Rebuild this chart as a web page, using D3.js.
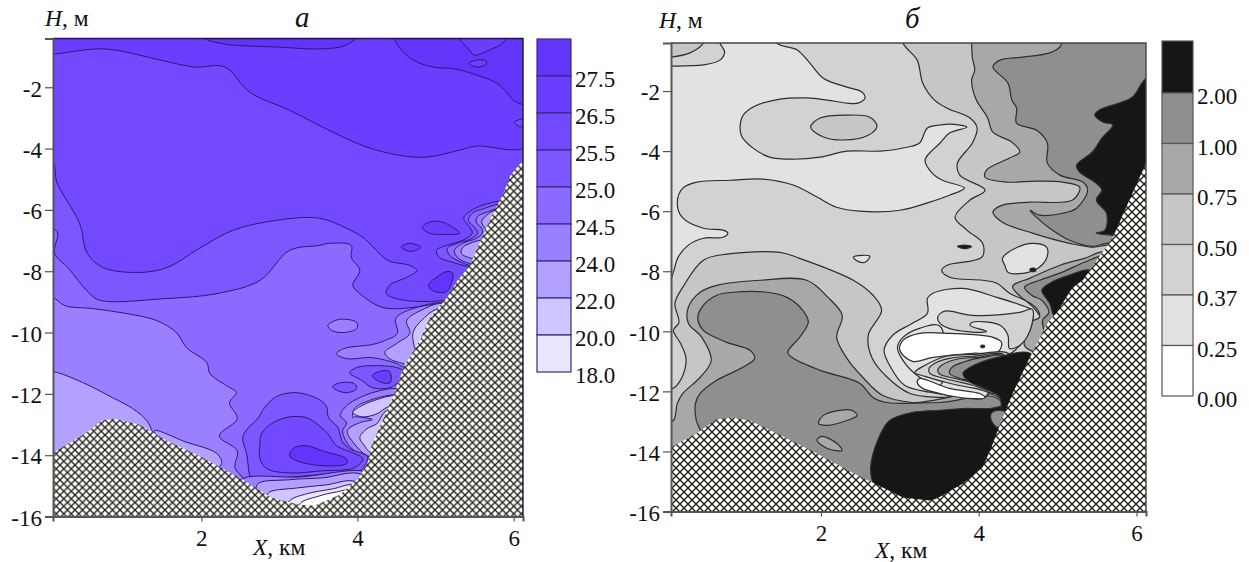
<!DOCTYPE html>
<html>
<head>
<meta charset="utf-8">
<script src="https://cdn.jsdelivr.net/npm/d3@7"></script>
<style>
	html, body { margin: 0; padding: 0; background: #fff; }
	svg { display: block; }
	text { font-family: "Liberation Serif", serif; fill: #111; }
</style>
</head>
<body>
<svg width="1249" height="562"></svg>
<script>
// every contour is [X km, H m]
const ticksH = [-2, -4, -6, -8, -10, -12, -14, -16];
const ticksX = [2, 4, 6];

// ---- panel a: temperature
const aLegend = ["27.5", "26.5", "25.5", "25.0", "24.5", "24.0", "22.0", "20.0", "18.0"];
const aColors = ["#6335fa", "#6a3dff", "#7249ff", "#7c57ff", "#8b6bff", "#9a80ff", "#b4a1ff", "#d0c6ff", "#ebe7ff", "#ffffff"];

const aTop = [[-0.07,-0.92],[0.10,-0.92],[0.76,-0.75],[1.47,-1.11],[1.91,-1.34],[2.30,-1.34],[2.62,-2.16],[3.13,-2.75],[3.68,-3.46],[4.12,-3.95],[4.54,-4.22],[4.88,-4.28],[5.31,-4.05],[5.52,-3.92],[6.20,-3.89],[6.20,0],[-0.07,0]];
const aTopLens = [[2.02,-0.13],[2.04,-0.39],[2.30,-0.59],[3.00,-0.69],[3.51,-0.75],[3.83,-0.65],[3.98,-0.39],[4.00,-0.13]];
const aTopRight = [[4.45,-0.13],[4.47,-0.39],[4.54,-0.72],[4.71,-1.11],[4.96,-1.34],[5.27,-1.41],[5.52,-1.60],[5.78,-1.86],[5.92,-2.19],[5.99,-2.42],[6.10,-2.55],[6.23,-2.61],[6.23,-0.13]];
const aTopNotch = [[5.28,-0.13],[5.31,-0.42],[5.43,-0.78],[5.50,-0.95],[5.69,-0.78],[5.86,-0.56],[5.95,-0.13]];
const aTopSpot = [[5.43,-1.21],[5.54,-1.11],[5.65,-1.14],[5.64,-1.27],[5.52,-1.34]];
const aEdgeSpot = [[6.01,-3.14],[6.10,-3.04],[6.23,-3.04],[6.23,-3.27],[6.07,-3.27]];

const aBand3 = [[-0.07,-4.48],[0.10,-4.48],[0.15,-5.10],[0.44,-6.44],[0.54,-7.42],[0.74,-7.88],[1.21,-8.04],[1.56,-7.88],[1.98,-7.25],[2.40,-6.67],[2.96,-6.34],[3.51,-6.27],[3.86,-6.60],[4.07,-6.90],[4.18,-7.16],[4.39,-7.65],[4.67,-7.81],[4.76,-7.97],[4.63,-8.20],[4.41,-8.46],[4.37,-8.73],[4.54,-8.92],[4.92,-8.99],[5.12,-8.95],[6.20,-8.95],[6.20,-16.47],[-0.07,-16.47]];
const aBand4 = [[-0.07,-6.60],[0.10,-6.60],[0.16,-6.76],[0.12,-7.42],[0.29,-7.88],[0.42,-8.30],[0.57,-8.73],[0.70,-8.95],[1.56,-8.89],[2.20,-8.73],[2.75,-8.30],[3.13,-7.32],[3.51,-7.16],[3.64,-7.09],[3.92,-7.16],[3.92,-7.55],[4.03,-7.97],[3.94,-8.46],[4.03,-8.73],[4.32,-9.18],[4.71,-9.18],[5.05,-9.02],[6.20,-9.02],[6.20,-16.47],[-0.07,-16.47]];
const aBand5 = [[-0.07,-8.86],[0.10,-8.86],[0.25,-9.12],[0.61,-9.22],[1.04,-9.38],[1.43,-9.61],[1.68,-10.0],[1.81,-10.49],[2.07,-10.98],[2.11,-11.34],[2.32,-11.73],[2.45,-11.96],[2.36,-12.29],[2.46,-12.81],[2.23,-13.37],[2.46,-13.86],[2.43,-14.41],[2.55,-14.84],[2.55,-16.47],[-0.07,-16.47]];
const aBand6 = [[-0.07,-11.27],[0.10,-11.27],[0.48,-11.63],[0.86,-12.12],[1.12,-12.48],[1.30,-12.87],[1.38,-13.27],[1.44,-13.69],[0.70,-16.47],[-0.07,-16.47]];
const aSliver = [[1.40,-13.20],[1.79,-13.56],[2.20,-13.95],[2.26,-14.28],[2.11,-14.51],[1.59,-13.85]];

const aBlob1 = [[2.53,-13.43],[2.59,-13.14],[2.72,-12.81],[2.81,-12.45],[2.96,-12.09],[3.22,-11.96],[3.49,-12.16],[3.60,-12.39],[3.63,-12.78],[3.75,-13.10],[3.80,-13.53],[3.90,-13.79],[4.13,-14.05],[4.09,-14.35],[4.03,-14.51],[3.77,-14.58],[3.35,-14.67],[2.91,-14.77],[2.66,-14.84],[2.58,-13.95]];
const aBlob2 = [[2.75,-13.63],[2.77,-13.30],[2.90,-12.97],[3.13,-12.75],[3.35,-12.78],[3.51,-13.04],[3.62,-13.30],[3.73,-13.69],[3.94,-13.92],[4.07,-14.12],[3.96,-14.41],[3.55,-14.51],[3.13,-14.58],[2.84,-14.44],[2.75,-14.12]];
const aBlob3 = [[3.13,-14.02],[3.19,-13.76],[3.35,-13.69],[3.55,-13.86],[3.86,-14.12],[3.86,-14.28],[3.68,-14.35],[3.43,-14.31],[3.22,-14.18]];

const aFloor5 = [[2.53,-14.77],[3.26,-14.71],[4.09,-14.54],[4.18,-14.84],[3.77,-15.82],[2.87,-15.82],[2.43,-15.16]];
const aFloor6 = [[2.71,-14.97],[3.13,-14.80],[3.55,-14.74],[4.03,-14.61],[4.22,-15.16],[3.77,-15.88],[2.87,-15.88]];
const aFloor7 = [[2.85,-15.26],[3.22,-15.07],[3.60,-14.97],[3.94,-14.84],[4.16,-15.16],[3.77,-15.88],[2.94,-15.88]];
const aFloor8 = [[3.13,-15.49],[3.35,-15.26],[3.68,-15.10],[3.96,-14.97],[4.09,-15.33],[3.77,-15.95],[3.07,-15.95]];
const aFloor9 = [[3.26,-15.59],[3.51,-15.33],[3.73,-15.20],[3.90,-15.16],[3.84,-15.88],[3.26,-15.95]];

const aIsle1 = [[3.90,-11.31],[3.99,-11.14],[4.24,-11.08],[4.50,-11.14],[4.58,-11.24],[4.54,-11.57],[4.41,-11.80],[4.19,-11.80],[4.06,-11.57]];
const aIsle2 = [[4.19,-11.41],[4.28,-11.27],[4.41,-11.27],[4.42,-11.63],[4.31,-11.63]];
const aIsle3 = [[3.68,-11.76],[3.80,-11.63],[3.96,-11.67],[3.99,-11.83],[3.87,-11.96],[3.75,-11.90]];
const aIsle4 = [[3.62,-9.77],[3.77,-9.57],[3.99,-9.67],[3.99,-9.87],[3.81,-10.0],[3.67,-9.93]];
const aIsle5 = [[4.83,-6.57],[4.92,-6.40],[5.09,-6.40],[5.31,-6.76],[5.09,-6.80],[4.92,-6.76]];
const aIsle6 = [[4.56,-7.22],[4.67,-7.09],[4.81,-7.22],[4.69,-7.35]];
const aIsle7 = [[4.91,-8.46],[5.01,-8.20],[5.15,-8.01],[5.22,-8.07],[5.18,-8.53],[5.12,-8.69],[4.96,-8.63]];

const aNest1 = [[5.88,-5.69],[5.60,-5.85],[5.44,-6.05],[5.36,-6.27],[5.44,-6.57],[5.47,-6.76],[5.35,-6.99],[5.14,-7.16],[5.01,-7.32],[5.05,-7.55],[5.22,-7.71],[5.41,-7.84],[5.82,-7.97],[6.20,-5.69]];
const aNest2 = [[5.86,-5.78],[5.63,-5.95],[5.47,-6.11],[5.42,-6.34],[5.50,-6.57],[5.54,-6.76],[5.44,-6.96],[5.28,-7.09],[5.15,-7.25],[5.18,-7.48],[5.33,-7.71],[5.44,-7.81],[5.82,-7.91],[6.20,-5.78]];
const aNest3 = [[5.85,-5.91],[5.65,-6.08],[5.54,-6.21],[5.52,-6.40],[5.59,-6.60],[5.60,-6.76],[5.52,-6.93],[5.35,-7.09],[5.24,-7.32],[5.28,-7.55],[5.44,-7.75],[5.82,-7.84],[6.20,-5.91]];
const aNest4 = [[5.82,-5.95],[5.65,-6.18],[5.59,-6.40],[5.65,-6.67],[5.65,-6.90],[5.47,-7.06],[5.35,-7.22],[5.33,-7.42],[5.46,-7.58],[5.82,-7.71],[6.20,-5.95]];

const aMid5 = [[3.73,-10.69],[3.83,-10.52],[4.19,-10.39],[4.35,-10.26],[4.51,-10.03],[4.49,-9.54],[4.71,-9.22],[5.09,-9.05],[5.44,-9.05],[5.05,-11.24],[4.58,-11.11],[4.50,-11.01],[4.19,-10.82],[3.86,-10.85]];
const aMid6 = [[4.35,-10.65],[4.50,-10.36],[4.67,-10.03],[4.63,-9.61],[4.86,-9.22],[5.05,-9.05],[5.37,-9.12],[4.80,-11.08],[4.54,-10.98],[4.41,-10.85]];
const aMid7 = [[4.71,-10.03],[4.86,-9.51],[5.03,-9.22],[5.31,-9.22],[4.80,-10.75]];

const aLow5 = [[4.50,-11.83],[4.28,-11.90],[4.03,-12.12],[3.86,-12.39],[3.78,-12.71],[3.86,-12.94],[3.81,-13.20],[3.85,-13.53],[3.96,-13.86],[4.13,-14.05],[4.54,-14.18],[4.80,-12.06]];
const aLow6 = [[3.94,-12.78],[3.96,-12.48],[4.15,-12.22],[4.45,-12.03],[4.80,-12.06],[4.54,-14.18],[4.13,-14.02],[3.96,-13.63],[3.87,-13.20],[4.03,-12.94],[4.19,-12.84],[3.96,-12.75]];
const aLow7 = [[4.03,-13.43],[4.12,-13.14],[4.25,-12.97],[4.37,-12.55],[4.80,-12.55],[4.41,-14.18],[4.14,-13.86],[4.09,-13.69]];
const aLow8 = [[3.94,-12.61],[4.05,-12.39],[4.28,-12.16],[4.44,-12.06],[4.66,-12.06],[4.35,-12.48],[4.25,-12.65],[4.06,-12.75]];

const aBottom = [[0.10,-13.92],[0.53,-13.27],[0.72,-12.88],[0.89,-12.81],[1.21,-13.01],[1.56,-13.53],[2.02,-14.08],[2.49,-14.74],[2.90,-15.39],[3.26,-15.62],[3.45,-15.65],[3.77,-15.29],[4.01,-14.77],[4.13,-14.25],[4.18,-13.69],[4.32,-12.88],[4.45,-12.12],[4.60,-11.08],[4.80,-10.26],[4.92,-9.54],[5.12,-8.95],[5.28,-8.30],[5.44,-7.81],[5.58,-6.99],[5.72,-6.18],[5.86,-5.52],[5.96,-4.87],[6.12,-4.38]];

// ---- panel b: grey levels
const bLegend = ["2.00", "1.00", "0.75", "0.50", "0.37", "0.25", "0.00"];
const bColors = ["#161616", "#8f8f8f", "#a8a8a8", "#c6c6c6", "#d2d2d2", "#e2e2e2", "#ffffff"];

const bLight = [[-0.04,0],[1.44,0],[1.44,-0.40],[1.70,-0.63],[1.86,-1.07],[2.03,-1.57],[2.33,-1.87],[2.52,-2.03],[2.56,-2.23],[2.47,-2.40],[2.33,-2.40],[2.08,-2.30],[1.82,-2.23],[1.48,-2.27],[1.14,-2.53],[1.00,-2.87],[0.99,-3.47],[1.14,-3.90],[1.35,-4.20],[1.65,-4.27],[1.99,-4.20],[2.33,-4.00],[2.75,-4.00],[3.09,-3.87],[3.25,-3.73],[3.35,-3.23],[3.51,-3.13],[3.63,-3.10],[3.85,-3.20],[3.63,-3.40],[3.51,-3.73],[3.32,-4.30],[3.41,-4.73],[3.54,-4.97],[3.82,-5.23],[3.63,-5.47],[3.38,-5.70],[3.00,-5.97],[2.49,-6.00],[2.20,-5.87],[1.95,-5.53],[1.65,-5.13],[1.27,-4.93],[0.85,-4.97],[0.43,-5.03],[0.25,-5.23],[0.18,-5.70],[0.24,-6.20],[0.51,-6.57],[0.76,-6.63],[0.82,-6.73],[0.76,-6.87],[0.51,-6.90],[0.32,-7.13],[0.19,-7.53],[0.13,-8.03],[0.06,-8.47],[-0.04,-8.47]];
const bCorner1 = [[-0.04,-1.17],[0.09,-1.17],[0.51,-1.13],[0.72,-0.97],[0.78,-0.70],[0.72,-0.40],[0.70,0],[-0.04,0]];
const bCorner2 = [[-0.04,-0.87],[0.09,-0.87],[0.34,-0.73],[0.51,-0.40],[0.53,0],[-0.04,0]];
const bEllipse = [[1.87,-3.20],[1.99,-2.90],[2.33,-2.80],[2.62,-2.87],[2.71,-3.17],[2.60,-3.47],[2.28,-3.63],[2.03,-3.53]];
const bSmallLens = [[2.41,-7.53],[2.52,-7.47],[2.62,-7.50],[2.56,-7.70],[2.47,-7.67]];

const bRight3 = [[3.04,0],[3.04,-0.40],[3.22,-0.97],[3.29,-1.73],[3.44,-2.30],[3.60,-2.57],[3.89,-2.90],[3.98,-3.23],[3.92,-3.73],[3.73,-4.40],[3.76,-4.80],[4.08,-5.30],[3.89,-5.63],[3.70,-6.20],[3.85,-6.63],[4.05,-7.07],[4.04,-7.53],[3.60,-7.80],[3.53,-7.97],[3.63,-8.20],[4.05,-8.30],[4.23,-8.40],[4.39,-8.73],[4.62,-9.03],[4.77,-9.47],[4.90,-10.47],[6.29,-10.47],[6.29,0]];
const bRight2 = [[3.91,0],[3.91,-0.40],[3.92,-0.90],[3.95,-1.30],[3.91,-1.63],[3.97,-2.30],[4.11,-2.87],[4.18,-3.37],[4.42,-3.70],[4.52,-4.03],[4.39,-4.23],[4.10,-4.63],[4.08,-4.87],[4.35,-5.03],[4.73,-5.00],[5.06,-5.03],[5.28,-5.20],[5.19,-5.63],[4.65,-5.70],[4.30,-5.80],[4.18,-6.03],[4.30,-6.37],[4.68,-6.73],[5.15,-7.07],[5.44,-7.20],[5.62,-7.13],[6.29,-6.97],[6.29,0]];
const bRight1 = [[5.05,0],[5.05,-0.40],[5.03,-0.53],[4.90,-0.73],[4.56,-0.87],[4.27,-0.97],[4.18,-1.20],[4.37,-1.73],[4.42,-2.30],[4.48,-2.57],[4.48,-3.07],[4.73,-3.30],[4.87,-3.73],[4.87,-4.40],[5.03,-4.80],[5.32,-5.03],[5.38,-5.30],[5.24,-5.90],[5.06,-6.07],[4.77,-6.13],[4.65,-5.97],[4.73,-6.20],[4.90,-6.57],[5.15,-6.97],[5.44,-7.17],[5.62,-7.07],[6.29,-6.97],[6.29,0]];
const bRight0 = [[6.10,-1.63],[5.95,-2.20],[5.78,-2.40],[5.53,-2.63],[5.47,-2.80],[5.57,-3.03],[5.70,-3.13],[5.56,-3.57],[5.44,-4.03],[5.24,-4.47],[5.28,-4.70],[5.49,-5.07],[5.56,-5.30],[5.49,-5.63],[5.62,-6.07],[5.60,-6.63],[5.49,-6.73],[5.68,-6.80],[6.29,-6.97],[6.29,-1.30]];

const bLow3 = [[-0.04,-12.03],[0.13,-11.90],[0.24,-11.53],[0.29,-10.90],[0.22,-10.40],[0.13,-9.97],[0.20,-9.70],[0.15,-9.07],[0.25,-8.53],[0.51,-7.63],[0.81,-7.43],[1.48,-7.37],[1.73,-7.57],[2.41,-8.30],[2.66,-8.80],[2.77,-9.30],[2.60,-10.13],[2.65,-10.90],[2.84,-11.53],[3.13,-12.07],[3.51,-12.20],[4.27,-12.17],[4.39,-16.47],[-0.04,-16.47]];
const bLow2 = [[-0.04,-13.13],[0.13,-12.97],[0.18,-12.40],[0.25,-12.07],[0.47,-11.53],[0.61,-10.97],[0.49,-10.20],[0.32,-9.73],[0.32,-9.20],[0.47,-8.70],[0.68,-8.47],[1.23,-8.30],[1.82,-8.30],[2.09,-8.87],[2.27,-9.47],[2.20,-10.20],[2.33,-10.90],[2.53,-11.53],[2.78,-12.13],[3.16,-12.37],[4.27,-12.23],[4.39,-16.47],[-0.04,-16.47]];
const bLow1 = [[0.22,-13.97],[0.47,-13.37],[0.42,-12.97],[0.41,-12.40],[0.47,-12.07],[0.68,-11.63],[1.01,-11.20],[1.16,-10.90],[1.10,-10.63],[0.81,-10.37],[0.51,-9.97],[0.44,-9.57],[0.49,-9.20],[0.68,-8.80],[0.89,-8.70],[1.32,-8.70],[1.57,-8.87],[1.77,-9.30],[1.84,-9.70],[1.73,-10.20],[1.58,-10.70],[1.65,-10.90],[1.99,-11.30],[2.49,-11.73],[2.66,-12.20],[2.84,-12.37],[3.51,-12.37],[4.27,-12.30],[4.39,-16.47],[0.47,-16.47]];
const bIsle1 = [[1.97,-13.07],[2.03,-12.80],[2.24,-12.63],[2.39,-12.63],[2.46,-12.80],[2.33,-12.97],[2.08,-13.13]];
const bIsle2 = [[1.95,-13.63],[2.01,-13.50],[2.20,-13.73],[2.27,-13.97],[2.08,-13.90]];
const bBlack = [[2.63,-14.53],[2.72,-13.63],[2.87,-12.97],[3.16,-12.70],[3.51,-12.63],[3.80,-12.57],[4.14,-12.57],[4.39,-12.47],[4.65,-12.63],[4.14,-16.63],[3.00,-16.47],[2.75,-15.63],[2.65,-14.97]];

const bStrip2 = [[4.43,-8.50],[4.65,-8.23],[5.03,-7.80],[5.34,-7.57],[5.59,-7.37],[5.66,-7.97],[5.03,-9.97],[4.77,-10.70],[4.58,-10.47],[4.62,-9.97],[4.65,-9.70],[4.77,-9.53],[4.73,-9.23],[4.54,-8.87]];
const bStrip1 = [[4.58,-8.53],[4.77,-8.30],[5.06,-8.03],[5.34,-7.70],[5.59,-7.50],[5.66,-7.97],[5.03,-9.80],[4.86,-10.07],[4.81,-9.63],[4.89,-9.37],[4.80,-8.97],[4.67,-8.80]];
const bStrip0 = [[4.80,-8.63],[4.90,-8.40],[5.15,-8.13],[5.41,-7.97],[5.47,-8.47],[4.99,-9.63],[4.90,-9.07]];
const bLobe = [[4.30,-7.57],[4.49,-7.20],[4.68,-7.07],[4.86,-7.20],[4.86,-7.57],[4.75,-7.90],[4.56,-8.07],[4.37,-8.03],[4.33,-7.80]];

const bPocket = [[3.42,-8.73],[3.80,-8.57],[4.23,-8.87],[4.61,-9.20],[4.68,-9.30],[4.65,-9.97],[4.46,-10.63],[4.27,-10.97],[4.08,-12.20],[3.76,-12.17],[3.38,-12.03],[3.06,-11.80],[2.87,-11.13],[2.80,-10.63],[2.91,-10.13],[3.16,-9.73],[3.35,-9.40],[3.35,-8.90]];
const bPocketIn = [[2.97,-10.53],[3.04,-10.20],[3.25,-9.90],[3.51,-9.83],[3.51,-11.80],[3.25,-11.53],[3.04,-10.97]];
const bNotch = [[3.48,-9.53],[3.57,-9.33],[3.92,-9.47],[4.52,-9.37],[4.68,-9.27],[4.65,-9.97],[4.52,-10.47],[4.39,-10.57],[4.37,-10.13],[4.27,-9.80],[3.92,-9.70],[3.89,-9.80],[4.10,-10.00],[3.92,-10.03],[3.54,-9.80]];
const bWhite1 = [[3.00,-10.63],[3.04,-10.30],[3.25,-10.07],[3.63,-10.07],[4.18,-10.20],[4.29,-10.37],[4.24,-10.70],[3.92,-10.73],[3.42,-10.87],[3.16,-11.00]];
const bRing4 = [[3.19,-11.37],[3.32,-11.13],[3.59,-10.83],[3.92,-10.77],[4.39,-10.77],[4.27,-12.03],[3.95,-11.90],[3.63,-11.73],[3.32,-11.50]];
const bRing3 = [[3.37,-11.23],[3.44,-11.07],[3.63,-10.90],[3.92,-10.83],[4.33,-10.80],[4.24,-11.97],[3.89,-11.77],[3.57,-11.57],[3.38,-11.40]];
const bRing2 = [[3.48,-11.30],[3.53,-11.13],[3.72,-10.93],[3.97,-10.87],[4.30,-10.83],[4.22,-11.97],[3.95,-11.73],[3.70,-11.57],[3.51,-11.43]];
const bRing1 = [[3.63,-11.40],[3.66,-11.20],[3.80,-11.03],[4.05,-10.87],[4.30,-10.83],[4.20,-11.90],[3.95,-11.67],[3.76,-11.57]];
const bCore = [[3.80,-11.40],[3.89,-11.20],[4.23,-10.87],[4.65,-10.73],[4.77,-11.30],[4.52,-12.63],[4.30,-12.70],[4.27,-12.20],[4.05,-11.87],[3.89,-11.70]];
const bWhite2 = [[3.22,-11.70],[3.25,-11.57],[3.35,-11.63],[3.63,-11.90],[4.01,-12.07],[4.08,-12.20],[3.85,-12.23],[3.51,-12.07],[3.29,-11.90]];
const bSquare = [[4.16,-12.73],[4.24,-12.63],[4.34,-12.70],[4.24,-13.20],[4.16,-12.97]];
const bDash1 = [[3.73,-7.17],[3.82,-7.13],[3.91,-7.18],[3.82,-7.25]];
const bDash2 = [[4.65,-7.93],[4.71,-7.90],[4.72,-8.00],[4.66,-8.00]];
const bDash3 = [[4.03,-10.47],[4.07,-10.47],[4.07,-10.53],[4.03,-10.53]];

const bBottom = [[0.10,-13.87],[0.44,-13.37],[0.68,-12.93],[0.85,-12.87],[1.10,-12.97],[1.54,-13.53],[1.95,-14.07],[2.41,-14.73],[2.68,-15.07],[3.04,-15.53],[3.38,-15.63],[3.47,-15.57],[3.80,-15.07],[4.05,-14.53],[4.16,-13.87],[4.29,-12.97],[4.43,-12.07],[4.61,-11.07],[4.87,-9.73],[4.99,-9.37],[5.19,-8.53],[5.32,-8.30],[5.70,-6.87],[5.91,-5.63],[6.12,-4.40]];

// paint order with the colour index of each region
const aLayers = [[aBand3,3],[aBand4,4],[aBand5,5],[aBand6,6],[aSliver,6],[aTop,1],[aTopLens,0],[aTopRight,0],[aTopNotch,1],[aTopSpot,1],[aEdgeSpot,2],
	[aLow5,5],[aLow6,6],[aLow7,7],[aLow8,7],[aBlob1,3],[aBlob2,2],[aBlob3,0],[aFloor5,5],[aFloor6,6],[aFloor7,7],[aFloor8,8],[aFloor9,9],
	[aMid5,5],[aMid6,6],[aMid7,7],[aIsle1,3],[aIsle2,1],[aIsle3,3],[aIsle4,5],[aIsle5,1],[aIsle6,1],[aIsle7,0],[aNest1,3],[aNest2,4],[aNest3,5],[aNest4,6]];
const bLayers = [[bLight,5],[bCorner1,4],[bCorner2,3],[bEllipse,3],[bSmallLens,5],[bRight3,3],[bRight2,2],[bRight1,1],[bRight0,0],
	[bLow3,3],[bLow2,2],[bLow1,1],[bIsle1,2],[bIsle2,2],[bBlack,0],[bStrip2,2],[bStrip1,1],[bStrip0,0],[bLobe,5],
	[bPocket,5],[bPocketIn,5],[bNotch,4],[bWhite1,6],[bRing4,4],[bRing3,3],[bRing2,2],[bRing1,1],[bCore,0],[bWhite2,6],[bSquare,1],[bDash1,0],[bDash2,0],[bDash3,0]];

const svg = d3.select("svg");
const defs = svg.append("defs");

function hatch(id, size, width){
	let p = defs.append("pattern").attr("id", id)
		.attr("patternUnits", "userSpaceOnUse")
		.attr("width", size).attr("height", size);
	p.append("rect").attr("width", size).attr("height", size).attr("fill", "#fdfdf6");
	p.append("path")
		.attr("d", "M0,0L" + size + "," + size + "M" + size + ",0L0," + size)
		.attr("stroke", "#222").attr("stroke-width", width);
}
hatch("hatchA", 7.5, 1.35);
hatch("hatchB", 8, 1.4);

function drawPanel(o){
	let x = d3.scaleLinear().domain([0.1, 6.12]).range([o.left, o.right]);
	let y = d3.scaleLinear().domain([o.topH, -16]).range([o.top, o.bottom]);

	let contour = d3.line()
		.x(function(d) { return x(d[0]); })
		.y(function(d) { return y(d[1]); })
		.curve(d3.curveCatmullRomClosed.alpha(0.5));

	defs.append("clipPath").attr("id", o.id + "clip").append("rect")
		.attr("x", o.left).attr("y", o.top)
		.attr("width", o.right - o.left).attr("height", o.bottom - o.top);

	let g = svg.append("g").attr("clip-path", "url(#" + o.id + "clip)");

	g.append("rect")
		.attr("x", o.left).attr("y", o.top)
		.attr("width", o.right - o.left).attr("height", o.bottom - o.top)
		.attr("fill", o.colors[o.base]);

	g.selectAll(".region")
		.data(o.layers)
		.enter().append("path")
		.attr("class", "region")
		.attr("d", function(d) { return contour(d[0]); })
		.attr("fill", function(d) { return o.colors[d[1]]; })
		.attr("stroke", o.line)
		.attr("stroke-width", o.lineWidth)
		.attr("stroke-linejoin", "round");

	// hatched sea floor
	let floor = o.bottomLine.concat([[6.12, -16], [0.1, -16]]);
	g.append("path")
		.attr("d", d3.line().x(function(d) { return x(d[0]); }).y(function(d) { return y(d[1]); })(floor) + "Z")
		.attr("fill", "url(#" + o.hatch + ")");

	// frame
	svg.append("path")
		.attr("d", "M" + o.left + "," + o.top + "H" + o.right + "V" + o.bottom)
		.attr("fill", "none").attr("stroke", o.frame).attr("stroke-width", 1.4);

	let left = svg.append("g").attr("transform", "translate(" + o.left + ",0)")
		.call(d3.axisLeft(y).tickValues(ticksH).tickFormat(String).tickSize(8).tickPadding(3));
	let below = svg.append("g").attr("transform", "translate(0," + o.bottom + ")")
		.call(d3.axisBottom(x).tickValues(ticksX).tickFormat(String).tickSize(5).tickPadding(8));
	[left, below].forEach(function(a){
		a.select(".domain").attr("stroke", "#555").attr("stroke-width", 2);
		a.selectAll(".tick line").attr("stroke", "#555").attr("stroke-width", 1.2);
		a.selectAll("text").attr("font-size", 23).attr("font-family", "Liberation Serif").attr("fill", "#111");
	});
	left.selectAll("text").attr("dy", ".38em");

	// titles
	let h = svg.append("text").attr("x", o.hX).attr("y", o.hY).attr("font-size", 23.5);
	h.append("tspan").attr("font-style", "italic").text("H");
	h.append("tspan").text(", м");
	let k = svg.append("text").attr("x", o.kmX).attr("y", o.kmY).attr("font-size", 23.5);
	k.append("tspan").attr("font-style", "italic").text("X");
	k.append("tspan").text(", км");
	svg.append("text").attr("x", o.nameX).attr("y", o.nameY)
		.attr("font-size", 29).attr("font-style", "italic").text(o.name);

	// legend
	let ly = d3.scalePoint().domain(o.legend).range(o.legendY);
	let bands = o.legend.map(function(label, i){
		return { top: i === 0 ? o.legendTop : ly(o.legend[i - 1]), bottom: ly(label), fill: o.colors[i] };
	});
	svg.selectAll("." + o.id + "band")
		.data(bands)
		.enter().append("rect")
		.attr("class", o.id + "band")
		.attr("x", o.legendX).attr("width", o.legendW)
		.attr("y", function(d) { return d.top; })
		.attr("height", function(d) { return d.bottom - d.top; })
		.attr("fill", function(d) { return d.fill; })
		.attr("stroke", o.legendLine).attr("stroke-width", 1.2);
	svg.selectAll("." + o.id + "label")
		.data(o.legend)
		.enter().append("text")
		.attr("class", o.id + "label")
		.attr("x", o.legendX + o.legendW + 4)
		.attr("y", function(d) { return ly(d) + 11; })
		.attr("font-size", 23)
		.text(function(d) { return d; });
}

drawPanel({
	id: "a", left: 53, right: 523, top: 38.5, bottom: 516.5, topH: -0.41,
	colors: aColors, base: 2, layers: aLayers, bottomLine: aBottom,
	line: "#2c1a72", lineWidth: 1, hatch: "hatchA", frame: "#1a1450",
	hX: 45, hY: 26, kmX: 253, kmY: 555, nameX: 295, nameY: 27, name: "а",
	legend: aLegend, legendY: [76, 372], legendTop: 39, legendX: 537, legendW: 34, legendLine: "#3a2a80"
});

drawPanel({
	id: "b", left: 671, right: 1146, top: 43, bottom: 511.5, topH: -0.4,
	colors: bColors, base: 4, layers: bLayers, bottomLine: bBottom,
	line: "#2e2e2e", lineWidth: 1.2, hatch: "hatchB", frame: "#444",
	hX: 659, hY: 28, kmX: 875, kmY: 558, nameX: 905, nameY: 28, name: "б",
	legend: bLegend, legendY: [93, 396], legendTop: 41, legendX: 1162, legendW: 31, legendLine: "#555"
});
</script>
</body>
</html>
